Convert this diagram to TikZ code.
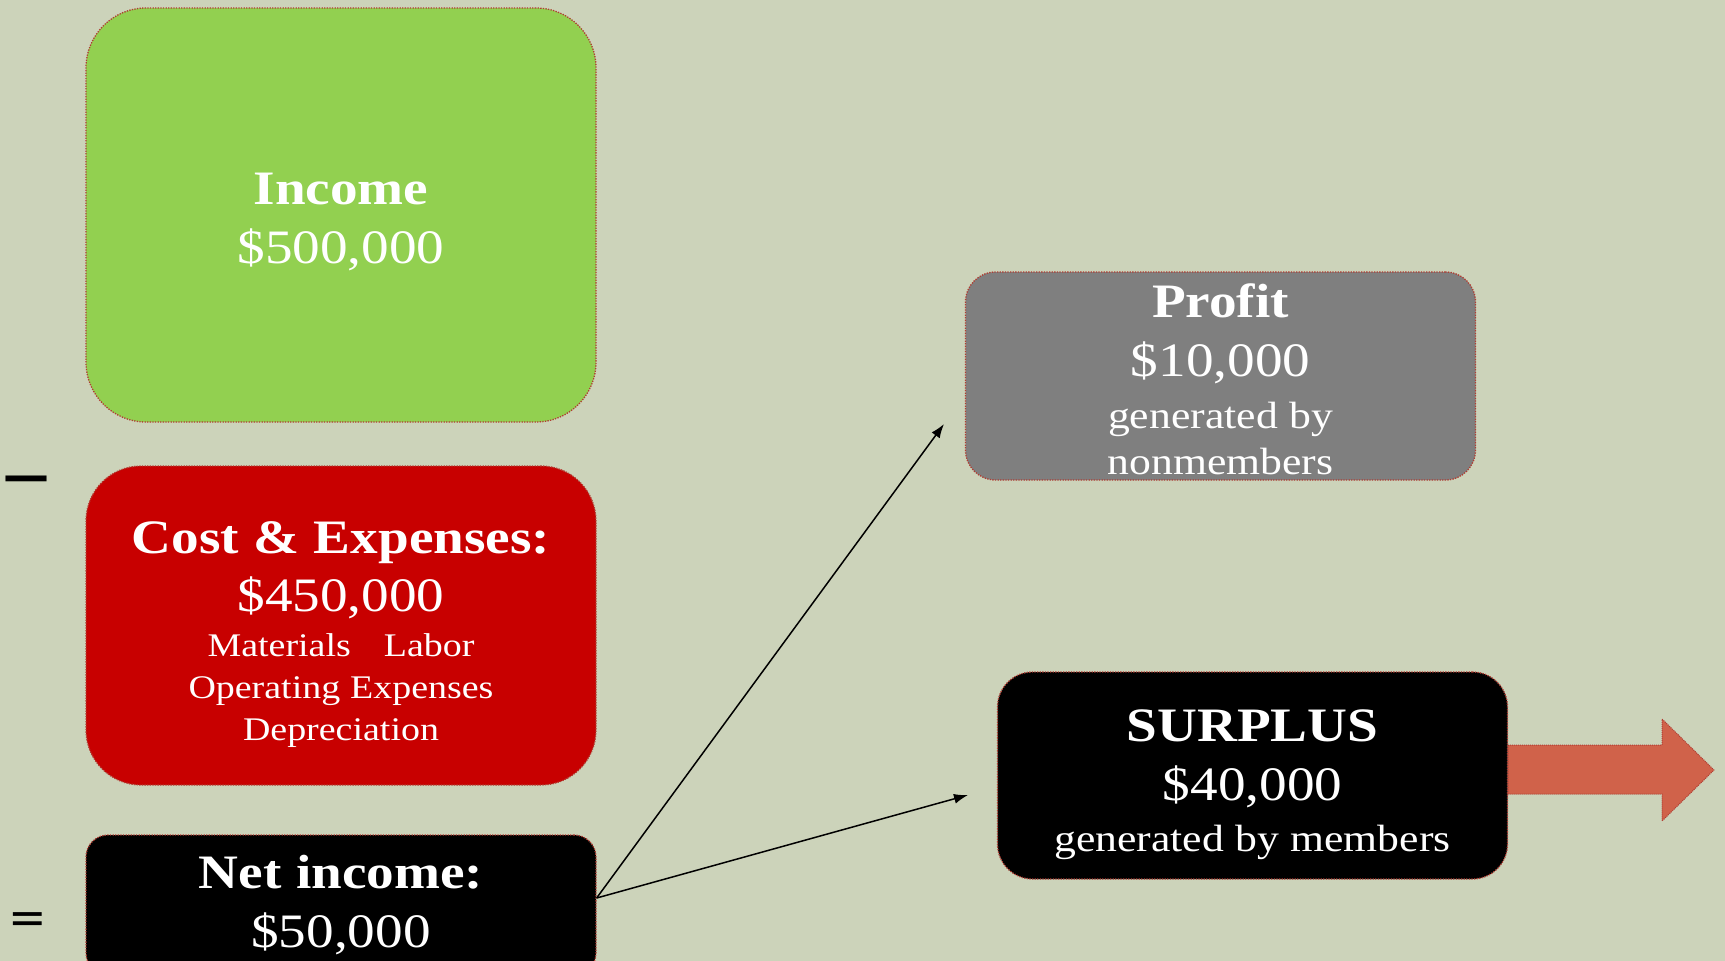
\documentclass[tikz,border=0pt]{standalone}
\usepackage{fontspec}
\setmainfont[FakeStretch=1.15]{Liberation Serif}
\newfontfamily\signfont{DejaVu Sans}
\usetikzlibrary{arrows.meta,calc}

\definecolor{slidebg}{RGB}{204,211,186}
\definecolor{incomegreen}{RGB}{146,208,80}
\definecolor{costred}{RGB}{200,0,0}
\definecolor{profitgray}{RGB}{127,127,127}
\definecolor{edgered}{RGB}{176,60,50}
\definecolor{arrowred}{RGB}{208,98,74}

% one centred line of box text: size, baseline skip, text
\newcommand\boxline[3]{{\fontsize{#1}{#2}\selectfont\spaceskip=0.3em\relax #3\par}}
% invisible strut that gives the first line of a box some head room
\newcommand\headroom[1]{\rule{0pt}{#1}}

\begin{document}
\begin{tikzpicture}[x=1pt,y=-1pt,
  money/.style={draw=edgered, line width=1.3pt, dash pattern=on 1.3pt off 1.3pt,
    text=white, align=center, inner sep=0pt, text width=490pt,
    minimum width=510pt},
  link/.style={line width=1.5pt, -{Latex[length=14pt,width=10pt]}},
  sign/.style={inner sep=0pt, text=black}]

\useasboundingbox (0,0) rectangle (1725,961);
\clip (0,0) rectangle (1725,961);
\fill[slidebg] (0,0) rectangle (1725,961);

% left column: income, minus costs, equals net income
\node[money, fill=incomegreen, minimum height=414pt, rounded corners=60pt] (income) at (341,215)
  {\boxline{48}{58}{\headroom{45pt}\bfseries Income}\boxline{48}{59}{\$500,000}};

\node[money, fill=costred, minimum height=319pt, rounded corners=55pt] (cost) at (341,625.5)
  {\boxline{48}{58}{\headroom{51pt}\bfseries Cost \& Expenses:}%
   \boxline{48}{58}{\$450,000}%
   \boxline{33}{45}{Materials\quad Labor}%
   \boxline{33}{42}{Operating Expenses}%
   \boxline{33}{42}{Depreciation}};

\node[money, fill=black, minimum height=140pt, rounded corners=22pt] (net) at (341,905)
  {\boxline{48}{58}{\bfseries Net income:}\boxline{48}{59}{\$50,000}};

\node[sign] (minus) at (27,484) {\signfont\bfseries\fontsize{46}{46}\selectfont —};
\node[sign] (equals) at (27.5,923) {\signfont\fontsize{46}{46}\selectfont =};

% right column: where the net income goes
\node[money, fill=profitgray, minimum height=208pt, rounded corners=30pt] (profit) at (1220.5,376)
  {\boxline{48}{58}{\headroom{40pt}\bfseries Profit}%
   \boxline{48}{59}{\$10,000}%
   \boxline{38}{52}{generated by}%
   \boxline{38}{46}{nonmembers}};

\node[money, fill=black, minimum height=207pt, rounded corners=35pt] (surplus) at (1252.5,775.5)
  {\boxline{48}{58}{\headroom{50pt}\bfseries SURPLUS}%
   \boxline{48}{59}{\$40,000}%
   \boxline{38}{51}{generated by members}};

% split of the net income
\coordinate (fork) at ($(net.east)+(0,-7)$);
\coordinate (toprofit) at (944,424);
\coordinate (tosurplus) at (968,795);
\draw[link] (fork) -- (toprofit);
\draw[link] (fork) -- (tosurplus);

% block arrow leaving the surplus box
\filldraw[fill=arrowred, draw=edgered, line width=1pt, dash pattern=on 1pt off 1pt]
  (surplus.east |- 0,745) -- (1662,745) -- (1662,719) -- (1714,770)
  -- (1662,821) -- (1662,794) -- (surplus.east |- 0,794) -- cycle;

\end{tikzpicture}
\end{document}
